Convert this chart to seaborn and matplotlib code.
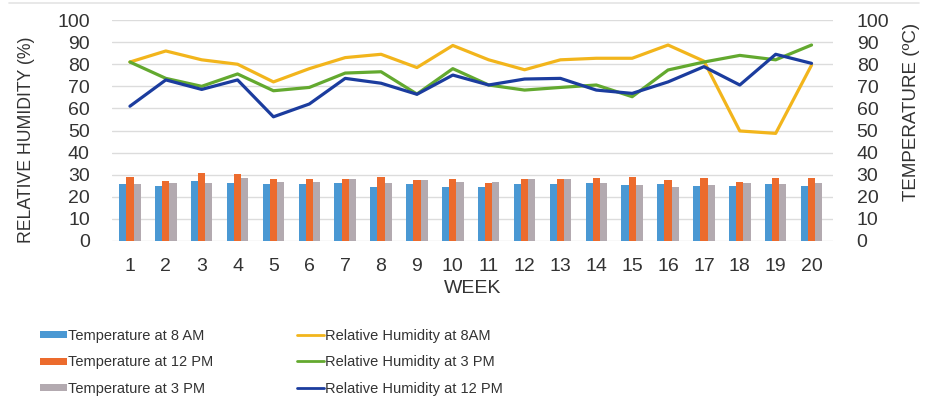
import numpy as np
import pandas as pd
import seaborn as sns
import matplotlib.pyplot as plt
from matplotlib.patches import Patch
from matplotlib.lines import Line2D

weeks = list(range(1, 21))

temp_8am = [25.7, 24.9, 27.3, 26.4, 25.6, 25.6, 26.4, 24.6, 25.6, 24.6,
            24.6, 25.6, 25.6, 26.1, 25.3, 25.6, 24.9, 24.9, 25.6, 24.9]
temp_12pm = [29.1, 27.3, 30.9, 30.3, 28.0, 28.0, 28.0, 29.1, 27.6, 28.0,
             26.1, 28.0, 28.0, 28.4, 28.9, 27.6, 28.4, 26.8, 28.4, 28.4]
temp_3pm = [25.8, 26.1, 26.4, 28.4, 26.8, 26.8, 28.0, 26.1, 27.6, 26.8,
            26.8, 28.0, 28.0, 26.1, 25.3, 24.6, 25.3, 26.1, 25.6, 26.1]

rh_8am = [81, 86, 82, 80, 72, 78, 83, 84.5, 78.5, 88.5,
          82, 77.5, 82, 82.7, 82.7, 88.7, 81.4, 49.8, 48.7, 79.6]
rh_3pm = [81, 73.6, 70, 75.6, 68, 69.5, 76, 76.6, 66.5, 78,
          70.6, 68.3, 69.5, 70.6, 65.3, 77.4, 81, 84, 82, 88.7]
rh_12pm = [61, 72.9, 68.6, 72.9, 56.2, 62, 73.6, 71.4, 66.4, 75.1,
           70.6, 73.3, 73.6, 68.3, 66.8, 72, 78.9, 70.6, 84.5, 80.4]

temp_labels = ["Temperature at 8 AM", "Temperature at 12 PM", "Temperature at 3 PM"]
rh_labels = ["Relative Humidity at 8AM", "Relative Humidity at 3 PM", "Relative Humidity at 12 PM"]
bar_colors = ["#4A98D3", "#EC6B2D", "#B3AAB0"]
line_colors = ["#F2B51C", "#63A92F", "#1B3C9E"]

temp_df = pd.DataFrame({
    "week": weeks * 3,
    "temp": temp_8am + temp_12pm + temp_3pm,
    "series": sum([[lab] * 20 for lab in temp_labels], []),
})

sns.set_theme(style="white")
plt.rcParams["font.family"] = ["Liberation Sans", "DejaVu Sans"]
text_color = "#333333"

fig = plt.figure(figsize=(9.28, 4.05), dpi=100)
ax2 = fig.add_axes([0.1207, 0.405, 0.777, 0.5455])  # temperature (right)
ax = ax2.twinx()  # relative humidity (left)
ax.yaxis.tick_left()
ax.yaxis.set_label_position("left")
ax2.yaxis.tick_right()
ax2.yaxis.set_label_position("right")

# temperature bars
sns.barplot(data=temp_df, x="week", y="temp", hue="series", order=weeks,
            hue_order=temp_labels, palette=bar_colors, width=0.6,
            saturation=1, linewidth=0, ax=ax2, legend=False)

# relative humidity lines
xpos = np.arange(len(weeks))
for vals, col in zip([rh_8am, rh_3pm, rh_12pm], line_colors):
    sns.lineplot(x=xpos, y=vals, color=col, linewidth=2.3, ax=ax)

for a in (ax, ax2):
    a.set_ylim(0, 100)
    a.set_xlim(-0.5, 19.6)
    a.set_yticks(np.arange(0, 101, 10))
    for s in a.spines.values():
        s.set_visible(False)
    a.tick_params(length=0, labelsize=14, colors=text_color)

ax2.grid(axis="y", color="#DCDCDC", linewidth=1)
ax2.grid(axis="x", visible=False)
ax.grid(False)
ax.set_zorder(ax2.get_zorder() + 1)
ax.patch.set_visible(False)

ax2.set_xticks(xpos)
ax2.set_xticklabels([str(w) for w in weeks])
ax2.tick_params(axis="x", pad=12)
ax2.tick_params(axis="y", pad=17)
ax.tick_params(axis="y", pad=16)

ax2.set_xlabel("WEEK", fontsize=14, color=text_color, labelpad=4)
ax.set_ylabel("RELATIVE HUMIDITY (%)", fontsize=12.7, color=text_color)
ax.yaxis.set_label_coords(-0.107, 0.457)
ax2.set_ylabel("TEMPERATURE (ºC)", fontsize=13.5, color=text_color)
ax2.yaxis.set_label_coords(1.097, 0.584)

# faint chart border line at the top
fig.add_artist(Line2D([0.01, 0.99], [1 - 3 / 405] * 2, color="#E4E4E4", linewidth=1.2))

bar_handles = [Patch(facecolor=c, edgecolor="none") for c in bar_colors]
line_handles = [Line2D([0], [0], color=c, linewidth=2) for c in line_colors]

leg_size = 10.5
leg_px = leg_size * 100 / 72
common = dict(frameon=False, handletextpad=0.05, borderaxespad=0, borderpad=0,
              prop={"size": leg_size})
hl = 27 / leg_px
spacing = (27 - leg_px) / leg_px
leg1 = fig.legend(bar_handles, temp_labels, loc="upper left",
                  bbox_to_anchor=(40 / 928, 1 - 329 / 405), handlelength=hl,
                  handleheight=0.35, labelspacing=spacing, labelcolor=text_color, **common)
leg2 = fig.legend(line_handles, rh_labels, loc="upper left",
                  bbox_to_anchor=(297 / 928, 1 - 329 / 405), handlelength=hl,
                  labelspacing=spacing, labelcolor=text_color, **common)

fig.savefig("out.png", dpi=100)
